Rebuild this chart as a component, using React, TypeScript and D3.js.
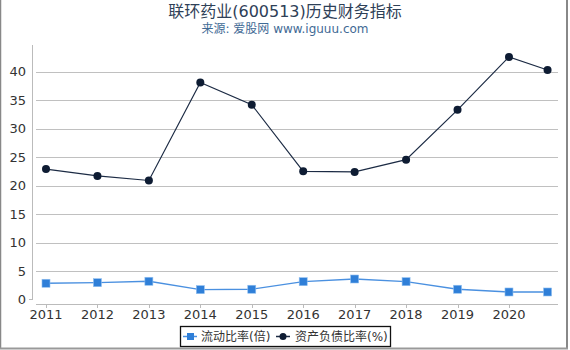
import React, { useEffect, useRef } from "react";
import * as d3 from "d3";

const years = [2011, 2012, 2013, 2014, 2015, 2016, 2017, 2018, 2019, 2020, 2020.75];
const tickYears = [2011, 2012, 2013, 2014, 2015, 2016, 2017, 2018, 2019, 2020];
const currentRatio = [2.85, 2.95, 3.2, 1.73, 1.8, 3.13, 3.6, 3.13, 1.8, 1.32, 1.32];
const debtRatio = [22.9, 21.7, 20.9, 38.1, 34.2, 22.5, 22.4, 24.55, 33.3, 42.6, 40.3];
const yTicks = [0, 5, 10, 15, 20, 25, 30, 35, 40];

const W = 570;
const H = 350;
const FONT = "'DejaVu Sans', 'Noto Sans CJK SC', sans-serif";

const App = () => {
  const ref = useRef<SVGSVGElement>(null);

  useEffect(() => {
    const svg = d3.select(ref.current);
    svg.selectAll("*").remove();

    const x = d3.scaleLinear().domain([2010.728, 2020.953]).range([32, 558]);
    const y = d3.scaleLinear().domain([0, 40]).range([299.5, 71.7]);

    svg.append("rect").attr("width", W).attr("height", H).attr("fill", "#fff");

    // frame
    svg.append("line").attr("x1", 0.5).attr("x2", 0.5).attr("y1", 0).attr("y2", 349)
      .attr("stroke", "#888").attr("stroke-width", 1.5);
    svg.append("line").attr("x1", 567).attr("x2", 567).attr("y1", 0).attr("y2", 349)
      .attr("stroke", "#888").attr("stroke-width", 2);
    svg.append("line").attr("x1", 0).attr("x2", 568).attr("y1", 348.5).attr("y2", 348.5)
      .attr("stroke", "#999").attr("stroke-width", 2);

    // title
    svg.append("text").attr("x", 285).attr("y", 17).attr("text-anchor", "middle")
      .attr("font-family", FONT).attr("font-size", 16).attr("fill", "#2e4057")
      .text("联环药业(600513)历史财务指标");
    svg.append("text").attr("x", 285).attr("y", 33).attr("text-anchor", "middle")
      .attr("font-family", FONT).attr("font-size", 12).attr("fill", "#3f6a95")
      .text("来源: 爱股网 www.iguuu.com");

    // grid
    svg.append("g").selectAll("line").data(yTicks.filter((d) => d > 0)).enter().append("line")
      .attr("x1", 36).attr("x2", 558)
      .attr("y1", (d) => Math.round(y(d)) + 0.5).attr("y2", (d) => Math.round(y(d)) + 0.5)
      .attr("stroke", "#c0c0c0").attr("stroke-width", 1);

    // y axis
    svg.append("line").attr("x1", 32.5).attr("x2", 32.5).attr("y1", 45).attr("y2", 300)
      .attr("stroke", "#bbb");
    svg.append("line").attr("x1", 29).attr("x2", 33).attr("y1", 299.5).attr("y2", 299.5)
      .attr("stroke", "#bbb");
    svg.append("g").selectAll("text").data(yTicks).enter().append("text")
      .attr("x", 26).attr("y", (d) => y(d) + 4.5).attr("text-anchor", "end")
      .attr("font-family", FONT).attr("font-size", 13).attr("fill", "#333")
      .text((d) => d);

    // x axis
    svg.append("line").attr("x1", 36).attr("x2", 558).attr("y1", 304.5).attr("y2", 304.5)
      .attr("stroke", "#bbb");
    svg.append("g").selectAll("line").data(tickYears).enter().append("line")
      .attr("x1", (d) => Math.round(x(d)) + 0.5).attr("x2", (d) => Math.round(x(d)) + 0.5)
      .attr("y1", 304).attr("y2", 308).attr("stroke", "#bbb");
    svg.append("g").selectAll("text").data(tickYears).enter().append("text")
      .attr("x", (d) => x(d)).attr("y", 319).attr("text-anchor", "middle")
      .attr("font-family", FONT).attr("font-size", 13).attr("fill", "#333")
      .text((d) => d);

    const line = d3.line<number>().x((_, i) => x(years[i])).y((d) => y(d));

    // current ratio
    svg.append("path").datum(currentRatio).attr("d", line).attr("fill", "none")
      .attr("stroke", "#4a90e0").attr("stroke-width", 1.3);
    svg.append("g").selectAll("rect").data(currentRatio).enter().append("rect")
      .attr("x", (_, i) => x(years[i]) - 4).attr("y", (d) => y(d) - 4)
      .attr("width", 8).attr("height", 8).attr("fill", "#2f7fd8")
      .attr("stroke", "#8fbff0").attr("stroke-width", 0.6);

    // debt ratio
    svg.append("path").datum(debtRatio).attr("d", line).attr("fill", "none")
      .attr("stroke", "#1c2b44").attr("stroke-width", 1.2);
    svg.append("g").selectAll("circle").data(debtRatio).enter().append("circle")
      .attr("cx", (_, i) => x(years[i])).attr("cy", (d) => y(d)).attr("r", 4)
      .attr("fill", "#0e1c33");

    // legend
    const lg = svg.append("g");
    lg.append("rect").attr("x", 180.5).attr("y", 326.5).attr("width", 210).attr("height", 20)
      .attr("fill", "#fff").attr("stroke", "#111").attr("stroke-width", 1.3);
    lg.append("line").attr("x1", 183).attr("x2", 197).attr("y1", 336.5).attr("y2", 336.5)
      .attr("stroke", "#4a90e0").attr("stroke-width", 1.5);
    lg.append("rect").attr("x", 187).attr("y", 333).attr("width", 7).attr("height", 7)
      .attr("fill", "#2f7fd8");
    lg.append("text").attr("x", 201).attr("y", 341).attr("font-family", FONT)
      .attr("font-size", 12).attr("fill", "#333").text("流动比率(倍)");
    lg.append("line").attr("x1", 276).attr("x2", 290).attr("y1", 336.5).attr("y2", 336.5)
      .attr("stroke", "#1c2b44").attr("stroke-width", 1.5);
    lg.append("circle").attr("cx", 283).attr("cy", 336.5).attr("r", 3.5).attr("fill", "#0e1c33");
    lg.append("text").attr("x", 295).attr("y", 341).attr("font-family", FONT)
      .attr("font-size", 12).attr("fill", "#333").text("资产负债比率(%)");
  }, []);

  return (
    <svg
      ref={ref}
      width={W}
      height={H}
      style={{ position: "absolute", left: 0, top: 0, display: "block" }}
    />
  );
};

export default App;
